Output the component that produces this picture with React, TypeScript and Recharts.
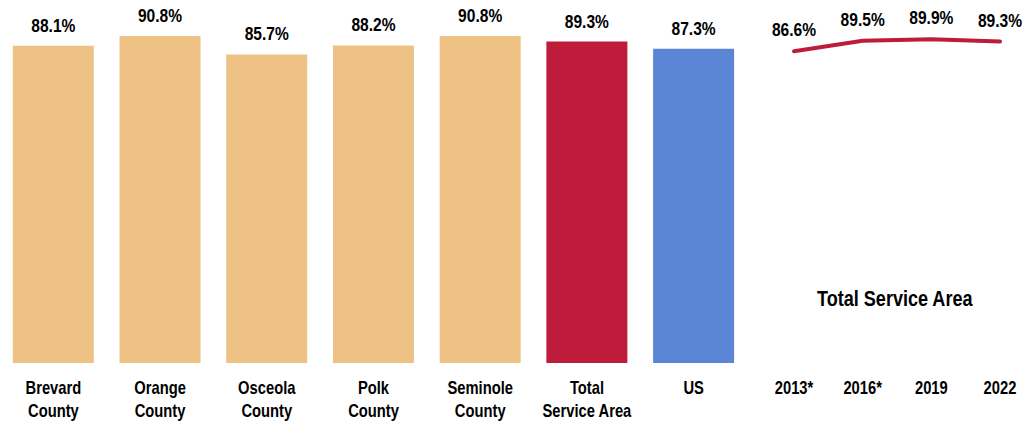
import React from 'react';
import { BarChart, Bar, Cell, LineChart, Line, XAxis, YAxis, LabelList } from 'recharts';

const areas = ['Brevard County', 'Orange County', 'Osceola County', 'Polk County', 'Seminole County', 'Total Service Area', 'US'];
const areaValues = [88.1, 90.8, 85.7, 88.2, 90.8, 89.3, 87.3];
const barColors = ['#EDC284', '#EDC284', '#EDC284', '#EDC284', '#EDC284', '#BE1C3A', '#5B86D6'];

const years = ['2013*', '2016*', '2019', '2022'];
const trendValues = [86.6, 89.5, 89.9, 89.3];

// no Arial Narrow here, so squeeze Liberation Sans horizontally
const FONT = '"Liberation Sans", Arial, sans-serif';
const SQUEEZE = 0.82;

const barData = areas.map((name, i) => ({ name, value: areaValues[i] }));
const lineData = years.map((year, i) => ({ year, value: trendValues[i] }));

const pct = (v: any) => `${Number(v).toFixed(1)}%`;

const Narrow = ({ x, y, size, children }: any) => (
  <text
    transform={`translate(${x},${y}) scale(${SQUEEZE},1)`}
    x={0}
    y={0}
    textAnchor="middle"
    fill="#000"
    fontFamily={FONT}
    fontWeight="bold"
    fontSize={size}
  >
    {children}
  </text>
);

const AreaTick = (props: any) => {
  const { x, y, payload } = props;
  const words = String(payload.value).split(' ');
  const lines = words.length > 1 ? [words[0], words.slice(1).join(' ')] : words;
  return (
    <g>
      {lines.map((l, i) => (
        <Narrow key={i} x={x} y={y + 31 + i * 23} size={18}>{l}</Narrow>
      ))}
    </g>
  );
};

const YearTick = (props: any) => {
  const { x, y, payload } = props;
  return <Narrow x={x} y={y + 31} size={18}>{payload.value}</Narrow>;
};

const BarValue = (props: any) => {
  const { x, y, width, value } = props;
  return <Narrow x={x + width / 2} y={y - 14} size={19}>{pct(value)}</Narrow>;
};

const PointValue = (props: any) => {
  const { x, y, value } = props;
  return <Narrow x={x} y={y - 15} size={19}>{pct(value)}</Narrow>;
};

export default function App() {
  return (
    <div style={{ position: 'absolute', left: 0, top: 0, width: 1029, height: 423, background: '#fff', fontFamily: FONT }}>
      <div style={{ position: 'absolute', left: 0, top: 0 }}>
        <BarChart width={747} height={423} data={barData} margin={{ top: 3, right: 0, bottom: 0, left: 0 }} barCategoryGap="12%">
          <XAxis dataKey="name" axisLine={false} tickLine={false} tickSize={0} tickMargin={0} height={60} interval={0} tick={<AreaTick />} />
          <YAxis hide domain={[0, 100]} />
          <Bar dataKey="value" isAnimationActive={false}>
            {barData.map((d, i) => (
              <Cell key={d.name} fill={barColors[i]} />
            ))}
            <LabelList dataKey="value" content={<BarValue />} />
          </Bar>
        </BarChart>
      </div>
      <div style={{ position: 'absolute', left: 760, top: 0 }}>
        <LineChart width={269} height={423} data={lineData} margin={{ top: 3, right: 0, bottom: 0, left: 0 }}>
          <XAxis dataKey="year" axisLine={false} tickLine={false} tickSize={0} tickMargin={0} height={60} interval={0} padding={{ left: 34, right: 29 }} tick={<YearTick />} />
          <YAxis hide domain={[0, 100]} />
          <Line type="linear" dataKey="value" stroke="#BE1C3A" strokeWidth={4} strokeLinecap="round" dot={false} activeDot={false} isAnimationActive={false}>
            <LabelList dataKey="value" content={<PointValue />} />
          </Line>
        </LineChart>
      </div>
      <div
        style={{
          position: 'absolute',
          left: 760,
          width: 269,
          top: 286,
          textAlign: 'center',
          fontWeight: 'bold',
          fontSize: 22,
          color: '#000',
          transform: `scaleX(${SQUEEZE})`,
          transformOrigin: '136px 0',
        }}
      >
        Total Service Area
      </div>
    </div>
  );
}
